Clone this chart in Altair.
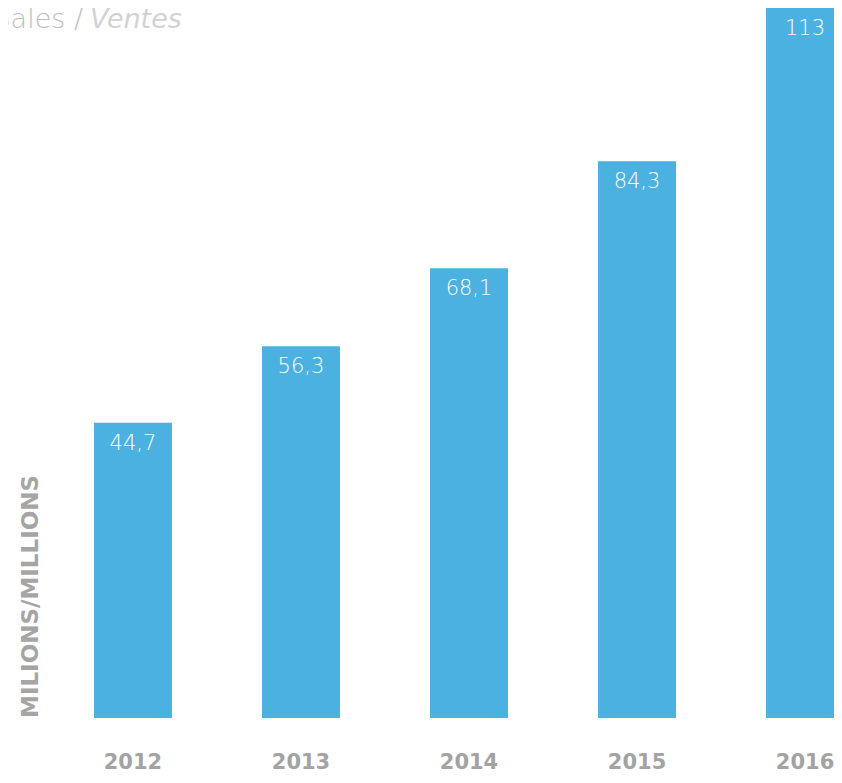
import altair as alt
import pandas as pd

years = ["2012", "2013", "2014", "2015", "2016"]
sales = [44.7, 56.3, 68.1, 84.3, 113]
labels = ["44,7", "56,3", "68,1", "84,3", "113"]
title_main = ["Sales /"]
title_italic = ["Ventes"]
axis_title = ["MILIONS/MILLIONS"]

df = pd.DataFrame({"year": years, "sales": sales, "label": labels})

W = 740
H = 710

x = alt.X(
    "year:O",
    scale=alt.Scale(paddingInner=0.536, paddingOuter=0, range=[0, 750]),
    axis=alt.Axis(
        title=None, domain=False, ticks=False, labelAngle=0,
        labelFontSize=21, labelFontWeight="bold", labelColor="#a3a3a3",
        labelPadding=33, labelFont="DejaVu Sans",
    ),
)
y = alt.Y("sales:Q", scale=alt.Scale(domain=[0, 107.5], clamp=True), axis=None)

bars = alt.Chart(df).mark_bar(color="#4BB1E0", clip=True).encode(x=x, y=y)
vals = alt.Chart(df).mark_text(
    color="white", dy=21, baseline="middle", fontSize=21, font="DejaVu Sans", fontWeight=200
).encode(x=x, y=y, text="label:N")

t1 = alt.Chart(pd.DataFrame({"t": title_main})).mark_text(
    align="right", baseline="alphabetic", fontSize=27, font="DejaVu Sans", fontWeight=200,
    color="#bdbdbd"
).encode(x=alt.value(-11), y=alt.value(20), text="t:N")
t2 = alt.Chart(pd.DataFrame({"t": title_italic})).mark_text(
    align="left", baseline="alphabetic", fontSize=27, font="DejaVu Sans", fontWeight=200,
    fontStyle="italic", color="#d2d2d2"
).encode(x=alt.value(-4), y=alt.value(20), text="t:N")
ytitle = alt.Chart(pd.DataFrame({"t": axis_title})).mark_text(
    align="left", baseline="middle", angle=270, fontSize=23, font="DejaVu Sans",
    fontWeight="bold", color="#a5a5a5"
).encode(x=alt.value(-63), y=alt.value(H), text="t:N")

chart = alt.layer(bars, vals, t1, t2, ytitle).properties(
    width=W, height=H,
    autosize=alt.AutoSizeParams(type="none"),
    padding={"left": 86, "top": 0, "right": 0, "bottom": 57},
).configure_view(stroke=None)

chart.save("out.html", embed_options={"renderer": "svg", "actions": False})
